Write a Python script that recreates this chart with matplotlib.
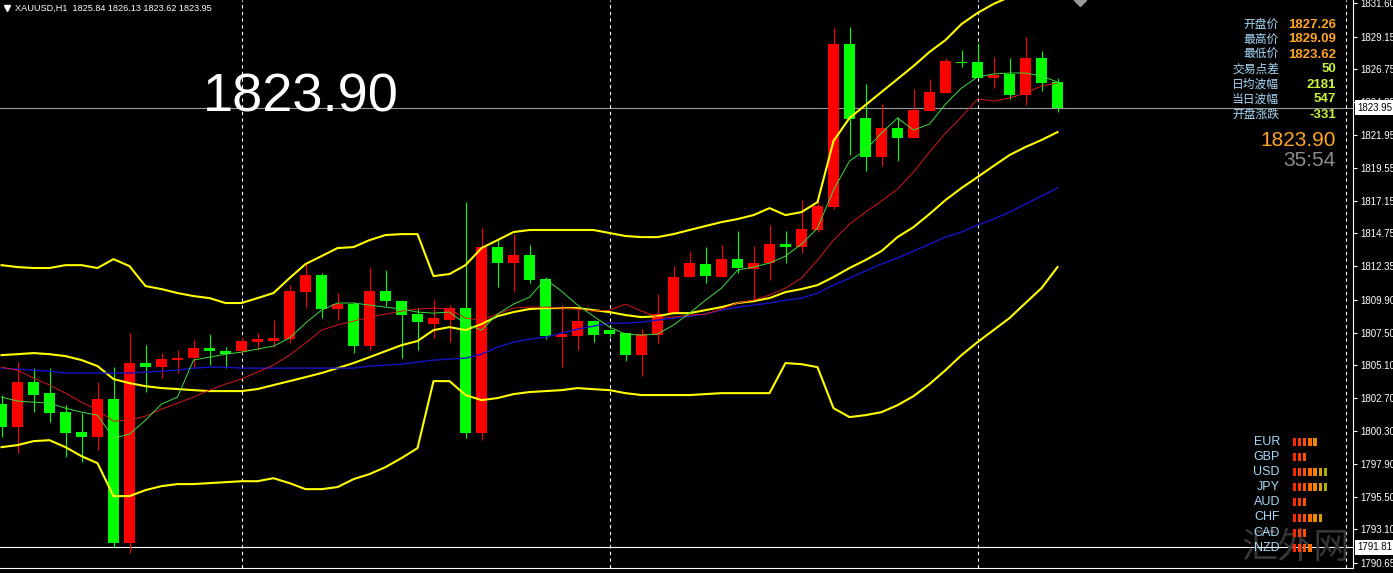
import matplotlib
matplotlib.use("Agg")
import matplotlib.pyplot as plt
from matplotlib.patches import Rectangle
from matplotlib.transforms import blended_transform_factory
import numpy as np

# ---- data (XAUUSD H1, oldest bar first) ----
symbol = "XAUUSD,H1"
last_ohlc = [1825.84, 1826.13, 1823.62, 1823.95]

opens = [1802.27, 1800.58, 1803.87, 1803.07, 1801.68, 1800.22, 1799.85, 1802.63, 1792.10, 1805.26,
         1804.97, 1805.48, 1805.63, 1806.36, 1806.14, 1806.14, 1806.80, 1806.87, 1807.02, 1810.46,
         1811.70, 1809.22, 1809.58, 1806.51, 1810.53, 1809.80, 1808.85, 1808.12, 1808.41, 1809.29,
         1800.14, 1813.75, 1812.58, 1813.17, 1811.41, 1807.17, 1807.24, 1808.34, 1807.68, 1807.46,
         1805.85, 1807.31, 1808.92, 1811.56, 1812.51, 1811.56, 1812.87, 1812.14, 1812.58, 1813.97,
         1813.75, 1815.00, 1816.68, 1828.60, 1823.18, 1820.33, 1822.46, 1821.72, 1823.70, 1825.02,
         1827.28, 1827.26, 1826.11, 1826.41, 1824.87, 1827.58, 1825.84]
highs = [1802.92, 1805.34, 1804.90, 1804.90, 1802.19, 1801.61, 1803.87, 1804.97, 1807.46, 1806.58,
         1806.00, 1806.22, 1806.95, 1807.39, 1806.44, 1807.17, 1807.46, 1808.41, 1810.97, 1812.51,
         1811.85, 1810.39, 1809.73, 1812.29, 1812.07, 1809.87, 1809.29, 1809.95, 1809.51, 1817.04,
         1815.14, 1814.26, 1814.70, 1813.90, 1811.56, 1809.51, 1809.36, 1808.41, 1807.75, 1807.46,
         1807.75, 1810.31, 1812.36, 1813.46, 1813.75, 1813.90, 1814.92, 1813.82, 1815.36, 1814.92,
         1817.19, 1817.34, 1829.77, 1829.84, 1825.67, 1824.21, 1823.26, 1825.31, 1826.04, 1827.58,
         1828.16, 1828.67, 1827.65, 1827.58, 1829.09, 1828.09, 1826.13]
lows = [1799.85, 1798.68, 1801.68, 1800.95, 1798.39, 1798.02, 1798.90, 1791.80, 1791.37, 1803.14,
        1804.17, 1804.53, 1804.97, 1805.12, 1804.90, 1806.00, 1806.22, 1806.44, 1806.73, 1809.36,
        1808.56, 1808.41, 1806.00, 1806.22, 1809.43, 1805.63, 1806.22, 1807.09, 1806.80, 1799.78,
        1799.63, 1810.82, 1810.46, 1811.12, 1807.02, 1804.97, 1806.22, 1806.80, 1807.17, 1805.41,
        1804.31, 1806.73, 1808.92, 1811.56, 1811.12, 1811.56, 1811.85, 1809.87, 1811.34, 1812.58,
        1813.31, 1814.85, 1816.50, 1820.48, 1819.31, 1819.68, 1820.04, 1821.72, 1823.70, 1825.00,
        1826.92, 1826.11, 1825.38, 1824.58, 1824.14, 1825.16, 1823.62]
closes = [1800.58, 1803.87, 1802.92, 1801.61, 1800.14, 1799.85, 1802.63, 1792.10, 1805.26, 1804.97,
          1805.56, 1805.63, 1806.36, 1806.14, 1805.92, 1806.87, 1807.02, 1807.09, 1810.53, 1811.70,
          1809.22, 1809.58, 1806.51, 1810.53, 1809.80, 1808.78, 1808.26, 1808.56, 1809.29, 1800.14,
          1813.75, 1812.58, 1813.17, 1811.34, 1807.24, 1807.39, 1808.34, 1807.31, 1807.39, 1805.85,
          1807.39, 1808.85, 1811.56, 1812.58, 1811.63, 1812.87, 1812.21, 1812.58, 1813.97, 1813.75,
          1815.07, 1816.75, 1828.60, 1823.11, 1820.33, 1822.46, 1821.72, 1823.77, 1825.09, 1827.36,
          1827.21, 1826.11, 1826.33, 1824.87, 1827.58, 1825.75, 1823.95]

# Bollinger bands (yellow)
bb_upper = [1812.43, 1812.29, 1812.22, 1812.22, 1812.43, 1812.43, 1812.22, 1812.87, 1812.36, 1810.90,
            1810.68, 1810.39, 1810.17, 1810.02, 1809.66, 1809.66, 1810.02, 1810.39, 1811.48, 1812.51,
            1813.09, 1813.68, 1813.75, 1814.26, 1814.63, 1814.70, 1814.70, 1811.63, 1811.78, 1812.43,
            1813.68, 1814.26, 1814.85, 1815.00, 1815.00, 1815.00, 1815.00, 1815.00, 1814.78, 1814.56,
            1814.48, 1814.48, 1814.70, 1815.00, 1815.29, 1815.58, 1815.80, 1816.09, 1816.60, 1816.09,
            1816.31, 1817.04, 1821.51, 1823.19, 1824.14, 1825.09, 1826.04, 1826.99, 1828.02, 1828.89,
            1830.06, 1830.87, 1831.53, 1832.04, 1832.41, 1832.70, 1832.92]
bb_mid = [1805.85, 1805.92, 1806.00, 1805.92, 1805.78, 1805.49, 1805.05, 1804.10, 1803.80, 1803.58,
          1803.44, 1803.37, 1803.29, 1803.22, 1803.22, 1803.22, 1803.37, 1803.66, 1803.95, 1804.24,
          1804.54, 1804.90, 1805.27, 1805.70, 1806.14, 1806.58, 1806.88, 1807.68, 1807.90, 1807.68,
          1808.12, 1808.70, 1809.00, 1809.22, 1809.29, 1809.29, 1809.29, 1809.14, 1809.00, 1808.78,
          1808.63, 1808.70, 1808.92, 1808.92, 1809.14, 1809.36, 1809.66, 1809.80, 1810.02, 1810.46,
          1810.68, 1810.97, 1811.56, 1812.22, 1812.80, 1813.46, 1814.48, 1815.21, 1816.17, 1817.19,
          1818.07, 1818.87, 1819.68, 1820.48, 1821.07, 1821.58, 1822.16]
bb_lower = [1799.12, 1799.27, 1799.56, 1799.63, 1799.12, 1798.46, 1797.95, 1795.54, 1795.54, 1795.98,
            1796.27, 1796.42, 1796.42, 1796.49, 1796.56, 1796.63, 1796.63, 1796.85, 1796.49, 1796.05,
            1796.05, 1796.20, 1796.78, 1797.15, 1797.66, 1798.32, 1799.05, 1803.95, 1803.95, 1802.93,
            1802.56, 1802.71, 1803.00, 1803.15, 1803.22, 1803.29, 1803.44, 1803.36, 1803.29, 1803.07,
            1802.93, 1802.93, 1802.93, 1802.93, 1803.00, 1803.07, 1803.07, 1803.07, 1803.07, 1805.27,
            1805.19, 1804.97, 1801.97, 1801.32, 1801.46, 1801.68, 1802.19, 1802.85, 1803.73, 1804.75,
            1805.85, 1806.80, 1807.68, 1808.56, 1809.66, 1810.75, 1812.29]

# moving averages: fast (green), medium (red), slow (blue)
ma_fast = [1802.78, 1802.49, 1802.41, 1802.34, 1801.97, 1801.68, 1801.46, 1799.78, 1800.07, 1801.10,
           1802.27, 1802.78, 1805.49, 1805.70, 1805.92, 1806.07, 1806.29, 1806.51, 1807.10, 1808.19,
           1809.14, 1809.66, 1809.66, 1809.51, 1809.36, 1809.22, 1809.00, 1808.92, 1809.00, 1808.12,
           1807.68, 1808.85, 1809.58, 1810.09, 1811.41, 1810.53, 1809.51, 1808.70, 1807.90, 1807.39,
           1807.31, 1807.39, 1808.05, 1808.92, 1809.87, 1810.75, 1812.07, 1812.29, 1812.58, 1813.09,
           1813.97, 1815.14, 1817.92, 1820.04, 1820.85, 1822.09, 1823.19, 1822.31, 1822.75, 1824.21,
           1825.38, 1826.19, 1826.41, 1826.48, 1826.48, 1826.26, 1825.82]
ma_mid = [1804.97, 1804.75, 1804.17, 1803.66, 1803.07, 1802.41, 1801.83, 1801.02, 1801.10, 1801.39,
          1801.90, 1802.34, 1802.78, 1803.29, 1803.73, 1804.10, 1804.61, 1805.12, 1805.85, 1806.73,
          1807.68, 1808.05, 1808.34, 1808.63, 1808.85, 1809.07, 1809.22, 1809.29, 1809.22, 1808.56,
          1808.41, 1808.85, 1809.29, 1809.36, 1809.36, 1809.29, 1809.22, 1809.07, 1809.14, 1809.58,
          1809.07, 1808.63, 1808.63, 1808.78, 1808.85, 1809.22, 1809.66, 1809.87, 1810.24, 1810.75,
          1811.48, 1812.80, 1814.26, 1815.43, 1816.31, 1817.12, 1817.99, 1819.24, 1820.70, 1822.09,
          1823.26, 1824.58, 1824.43, 1824.65, 1825.02, 1825.53, 1825.75]
ma_slow = [1804.90, 1804.83, 1804.75, 1804.68, 1804.54, 1804.54, 1804.54, 1804.54, 1804.54, 1804.61,
           1804.68, 1804.75, 1804.90, 1804.97, 1804.97, 1804.90, 1804.90, 1804.90, 1804.90, 1804.90,
           1804.90, 1804.90, 1804.90, 1805.05, 1805.12, 1805.19, 1805.34, 1805.49, 1805.56, 1805.63,
           1805.92, 1806.44, 1806.80, 1807.02, 1807.17, 1807.46, 1807.75, 1807.97, 1808.19, 1808.19,
           1808.27, 1808.41, 1808.56, 1808.70, 1808.85, 1809.14, 1809.36, 1809.51, 1809.66, 1809.87,
           1810.02, 1810.39, 1810.97, 1811.48, 1812.00, 1812.51, 1812.95, 1813.46, 1813.97, 1814.48,
           1814.85, 1815.36, 1815.80, 1816.31, 1816.90, 1817.48, 1818.07]

price_ticks = [1831.60, 1829.15, 1826.75, 1824.35, 1821.95, 1819.55, 1817.15, 1814.75, 1812.35,
               1809.90, 1807.50, 1805.10, 1802.70, 1800.30, 1797.90, 1795.50, 1793.10, 1790.65]
bid_price = 1823.95
hline_price = 1791.81
day_separators = [15, 38, 61, 84]   # bar index of each day start

big_price = "1823.90"
info_labels = ["开盘价", "最高价", "最低价", "交易点差", "日均波幅", "当日波幅", "开盘涨跌"]
info_values = ["1827.26", "1829.09", "1823.62", "50", "2181", "547", "-331"]
countdown = "35:54"
currencies = ["EUR", "GBP", "USD", "JPY", "AUD", "CHF", "CAD", "NZD"]
strength = [5, 3, 7, 7, 3, 6, 3, 4]

# ---- figure ----
plt.rcParams["font.family"] = ["Liberation Sans", "DejaVu Sans"]
CJK = ["Noto Sans CJK SC", "DejaVu Sans"]

W, H = 1393, 573
PX = 16.0          # pixels per bar
PPU = 13.675       # pixels per price unit
fig = plt.figure(figsize=(W / 100, H / 100), dpi=100, facecolor="black")
ax = fig.add_axes([0, 5 / H, 1353 / W, 568 / H], facecolor="black")

x = np.arange(len(opens))
o, h, l, c = map(np.array, (opens, highs, lows, closes))
col = np.where(c >= o, "#ff0000", "#00ff00")   # red = up, green = down
ax.vlines(x, l, h, colors=col, lw=0.8, zorder=2)
ax.bar(x, np.maximum(np.abs(c - o), 0.07), bottom=np.minimum(o, c), width=0.7,
       color=col, lw=0, zorder=3)

ax.plot(x, bb_upper, color="#ffff00", lw=1.5, zorder=4)
ax.plot(x, bb_mid, color="#ffff00", lw=1.5, zorder=4)
ax.plot(x, bb_lower, color="#ffff00", lw=1.5, zorder=4)
ax.plot(x, ma_slow, color="#1414c8", lw=1.0, zorder=4)
ax.plot(x, ma_mid, color="#d81818", lw=0.7, zorder=5)
ax.plot(x, ma_fast, color="#3cdc3c", lw=0.7, zorder=5)

ax.axhline(bid_price, color="#9a9a9a", lw=0.8, zorder=1)
ax.axhline(hline_price, color="white", lw=0.8, zorder=1)
for d in day_separators:
    ax.axvline(d, color="white", lw=0.8, ls=(0, (3, 3)), zorder=1)

ytop = price_ticks[0] + 3 / PPU
ax.set_ylim(ytop - 568 / PPU, ytop)
ax.set_xlim(-1.5 / PX, (1353 - 1.5) / PX)

for s in ["left", "top"]:
    ax.spines[s].set_visible(False)
for s in ["right", "bottom"]:
    ax.spines[s].set_color("white")
    ax.spines[s].set_linewidth(0.8)
ax.set_xticks([])
ax.yaxis.tick_right()
ax.set_yticks(price_ticks)
ax.set_yticklabels([f"{v:.2f}" for v in price_ticks])
ax.tick_params(axis="y", colors="white", labelsize=7, length=3, width=0.8, pad=2)

trans = blended_transform_factory(ax.transAxes, ax.transData)
for p in (bid_price, hline_price):
    ax.text(1 + 4 / 1353, p, f"{p:.2f}", transform=trans, color="black", fontsize=7,
            ha="left", va="center", clip_on=False, zorder=10,
            bbox=dict(boxstyle="square,pad=0.25", fc="white", ec="none"))

# ---- overlay in pixel coordinates ----
ov = fig.add_axes([0, 0, 1, 1])
ov.set_xlim(0, W)
ov.set_ylim(H, 0)
ov.axis("off")
ov.patch.set_alpha(0)

ov.plot([7], [8], marker="v", color="white", ms=4.5, lw=0)
ov.text(15, 8, f"{symbol}  " + " ".join(f"{v:.2f}" for v in last_ohlc),
        color="white", fontsize=6.6, ha="left", va="center")
ov.plot([1080], [0], marker="D", color="#9a9a9a", ms=6, lw=0, clip_on=False)

ov.text(203, 111, big_price, color="white", fontsize=39, ha="left", va="baseline")

for k, (lab, val) in enumerate(zip(info_labels, info_values)):
    y = 24.5 + 15 * k
    ov.text(1279, y, lab, color="#a8d8f8", fontsize=8.5, family=CJK, ha="right", va="center")
    ov.text(1336, y, val, color="#ffa520" if k < 3 else "#c8f53c", fontsize=9.5,
            fontweight="bold", ha="right", va="center")
ov.text(1336, 140, big_price, color="#ffa520", fontsize=15, ha="right", va="center")
ov.text(1336, 160, countdown, color="#8c8c8c", fontsize=15, ha="right", va="center")

ov.text(1350, 548, "汇外网", color="#363636", fontsize=26, family=CJK,
        ha="right", va="center", zorder=0.5)
block_cols = ["#ff2400", "#ff3c00", "#ff5200", "#ff6c00", "#f08800", "#d8a000", "#b0b000"]
for k, (cur, n) in enumerate(zip(currencies, strength)):
    y = 442 + 15.1 * k
    ov.text(1280, y, cur, color="#a8d8f8", fontsize=9, ha="right", va="center", zorder=3)
    for j in range(n):
        ov.add_patch(Rectangle((1293 + 5.1 * j, y - 4), 3.2, 8, color=block_cols[j], lw=0, zorder=3))

fig.savefig("out.png", dpi=100, facecolor="black")
